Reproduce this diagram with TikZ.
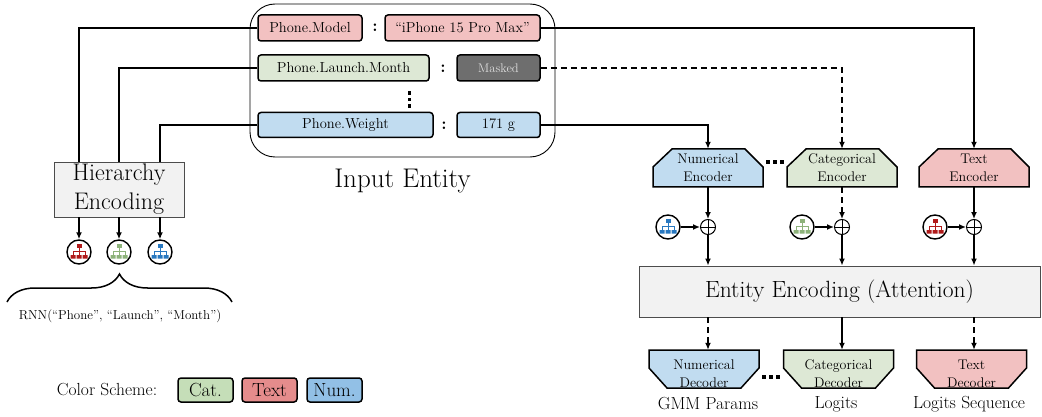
\documentclass[tikz,border=0pt]{standalone}
\usepackage{xcolor}
\usepackage{tikz}
\usetikzlibrary{arrows.meta}
\usetikzlibrary{calc}
\usetikzlibrary{positioning}
\usetikzlibrary{decorations.pathreplacing}

\definecolor{redlight}{HTML}{F2C1C1}
\definecolor{greenlight}{HTML}{DDE8D5}
\definecolor{bluelight}{HTML}{C1DCF0}
\definecolor{redkey}{HTML}{E58C8C}
\definecolor{greenkey}{HTML}{C5DEB8}
\definecolor{bluekey}{HTML}{92C0E6}
\definecolor{iconred}{HTML}{B01A1A}
\definecolor{icongreen}{HTML}{8DB27A}
\definecolor{iconblue}{HTML}{2878C0}
\definecolor{maskgray}{HTML}{6E6E6E}
\definecolor{panel}{HTML}{F2F2F2}

\newcommand{\fieldfont}{\fontsize{14.5}{17}\selectfont}
\newcommand{\encfont}{\fontsize{14}{18}\selectfont}
\newcommand{\maskfont}{\fontsize{12.5}{15}\selectfont}
\newcommand{\labelfont}{\fontsize{17.5}{21}\selectfont}
\newcommand{\bigfont}{\fontsize{24}{29}\selectfont}
\newcommand{\titlefont}{\fontsize{27}{32}\selectfont}

\begin{document}
\begin{tikzpicture}[
    x=1pt, y=-1pt,
    >={Latex[length=7pt,width=6pt]},
    % styles
    conn/.style={line width=1.5pt},
    field/.style={draw, line width=1.5pt, rounded corners=3pt,
      minimum height=26pt, inner sep=0pt, font=\fieldfont},
    colon/.style={font=\fontsize{17}{17}\selectfont\bfseries},
    panelbox/.style={draw=black!70, fill=panel, line width=0.9pt,
      inner sep=0pt, align=center},
    outline/.style={draw, line width=1.5pt, line join=miter},
    codec/.style={minimum width=110pt, minimum height=38pt, inner sep=0pt,
      align=center, font=\encfont},
    dectext/.style={font=\encfont, align=center, yshift=-5pt},
    plus/.style={circle, draw, line width=1pt, minimum size=15pt,
      inner sep=0pt, path picture={
        \draw[line width=1pt] (path picture bounding box.north) --
          (path picture bounding box.south)
          (path picture bounding box.west) --
          (path picture bounding box.east);}},
    hicon/.style={circle, draw, line width=1.4pt, fill=white,
      minimum size=24pt, inner sep=0pt, path picture={
        \begin{scope}[shift={(path picture bounding box.center)}, #1]
          \fill (-2.5,-8) rectangle (2.5,-4.5);
          \draw[line width=0.8pt] (0,-4.5) -- (0,3)
            (-6,-1) -- (6,-1) (-6,-1) -- (-6,3) (6,-1) -- (6,3);
          \fill (-8.5,3) rectangle (-3.5,6.5)
            (-2.5,3) rectangle (2.5,6.5) (3.5,3) rectangle (8.5,6.5);
        \end{scope}}},
    key/.style={draw, line width=1.5pt, rounded corners=3pt,
      minimum width=55pt, minimum height=24pt, inner sep=0pt,
      font=\fontsize{19}{19}\selectfont}]

    \useasboundingbox (0,0) rectangle (1042,417);

    % input entity
    \node[draw, line width=0.9pt, rounded corners=25pt,
      minimum width=305pt, minimum height=153pt] (entity) at (402.5,80.5) {};
    \node[font=\titlefont, below=8pt of entity] (entitylabel) {Input Entity};

    \node[field, fill=redlight, minimum width=104pt] (pm) at (310,28) {Phone.Model};
    \node[colon] (c1) at (375,28) {:};
    \node[field, fill=redlight, minimum width=155pt] (pmv) at (462.5,28) {``iPhone 15 Pro Max''};

    \node[field, fill=greenlight, minimum width=171pt] (plm) at (343.5,68) {Phone.Launch.Month};
    \node[colon] (c2) at (443,69) {:};
    \node[field, fill=maskgray, text=black!12, font=\maskfont,
      minimum width=83pt] (plmv) at (498.5,68) {Masked};

    \foreach \dy in {93,99.5,106}
      \fill (407.5,\dy-1.75) rectangle ++(3.5,3.5);

    \node[field, fill=bluelight, minimum width=175pt, minimum height=25pt] (pw) at (345.5,125) {Phone.Weight};
    \node[colon] (c3) at (444,126) {:};
    \node[field, fill=bluelight, minimum width=83pt, minimum height=25pt] (pwv) at (498.5,125) {171 g};

    % hierarchy encoding
    \node[panelbox, font=\bigfont, minimum width=130pt, minimum height=55pt] (hier) at (119,189.5) {Hierarchy\\Encoding};

    \node[hicon=iconred] (hr) at (79,252) {};
    \node[hicon=icongreen] (hg) at (119,252) {};
    \node[hicon=iconblue] (hb) at (160,252) {};

    \draw[conn] (pm.west) -| ([xshift=-40pt]hier.north);
    \draw[conn] (plm.west) -| (hier.north);
    \draw[conn] (pw.west) -| ([xshift=41pt]hier.north);
    \foreach \ic in {hr, hg, hb}
      \draw[conn, ->] (hier.south -| \ic) -- (\ic);

    \draw[line width=1.5pt, decorate, decoration={brace, amplitude=28pt, aspect=0.5}]
      (7,302) -- (232,302);
    \node[font=\fontsize{13}{15}\selectfont] (rnn) at (120,316)
      {RNN(``Phone'', ``Launch'', ``Month'')};

    % encoders (chamfered top corners)
    \foreach \cx/\c in {708/bluelight, 842/greenlight, 974/redlight}
      \draw[outline, fill=\c] (\cx-55,187) -- (\cx-55,167) -- (\cx-36,149)
        -- (\cx+37,149) -- (\cx+55,167) -- (\cx+55,187) -- cycle;
    \node[codec] (encN) at (708,168) {Numerical\\Encoder};
    \node[codec] (encC) at (842,168) {Categorical\\Encoder};
    \node[codec] (encT) at (974,168) {Text\\Encoder};
    \foreach \dx in {-7,0,7}
      \fill (775+\dx-1.75,160.25) rectangle ++(3.5,3.5);

    \draw[conn, ->] (pwv.east) -| (encN.north);
    \draw[conn, ->, dash pattern=on 6pt off 4pt] (plmv.east) -| (encC.north);
    \draw[conn, ->] (pmv.east) -| (encT.north);

    \node[plus] (plusN) at (708,227) {};
    \node[plus] (plusC) at (842,227) {};
    \node[plus] (plusT) at (974,227) {};
    \node[hicon=iconblue] (ib) at (668,227) {};
    \node[hicon=icongreen] (ig) at (802,227) {};
    \node[hicon=iconred] (ir) at (935,227) {};

    \draw[conn, ->] (encN.south) -- (plusN);
    \draw[conn, ->, dash pattern=on 6pt off 4pt] (encC.south) -- (plusC);
    \draw[conn, ->] (encT.south) -- (plusT);
    \draw[conn, ->] (ib) -- (plusN);
    \draw[conn, ->] (ig) -- (plusC);
    \draw[conn, ->] (ir) -- (plusT);

    % entity encoding
    \node[panelbox, font=\fontsize{23.5}{28}\selectfont,
      minimum width=401pt, minimum height=51pt] (att) at (839.5,291.5)
      {Entity Encoding (Attention)};
    \foreach \p in {plusN, plusC, plusT}
      \draw[conn, ->] (\p) -- (\p |- att.north);

    % decoders (chamfered bottom corners)
    \foreach \cx/\c in {704/bluelight, 838.5/greenlight, 971.5/redlight}
      \draw[outline, fill=\c] (\cx-55,350) -- (\cx+55,350) -- (\cx+55,368)
        -- (\cx+37,388) -- (\cx-37,388) -- (\cx-55,368) -- cycle;
    \node[codec, label={[dectext]center:Numerical\\Decoder}] (decN) at (704,369) {};
    \node[codec, label={[dectext]center:Categorical\\Decoder}] (decC) at (838.5,369) {};
    \node[codec, label={[dectext]center:Text\\Decoder}] (decT) at (971.5,369) {};
    \foreach \dx in {-7,0,7}
      \fill (771+\dx-1.75,375.25) rectangle ++(3.5,3.5);

    \draw[conn, ->, dash pattern=on 6pt off 4pt] (att.south -| plusN) -- (decN.north -| plusN);
    \draw[conn, ->] (att.south -| plusC) -- (decC.north -| plusC);
    \draw[conn, ->, dash pattern=on 6pt off 4pt] (att.south -| plusT) -- (decT.north -| plusT);

    \node[font=\labelfont] (outN) at (708,404) {GMM Params};
    \node[font=\labelfont] (outC) at (836,404) {Logits};
    \node[font=\labelfont] (outT) at (969,404) {Logits Sequence};

    % color scheme
    \node[font=\labelfont] (scheme) at (107,390) {Color Scheme:};
    \node[key, fill=greenkey] (kc) at (205.5,390) {Cat.};
    \node[key, fill=redkey] (kt) at (269.5,390) {Text};
    \node[key, fill=bluekey] (kn) at (334.5,390) {Num.};

\end{tikzpicture}
\end{document}
